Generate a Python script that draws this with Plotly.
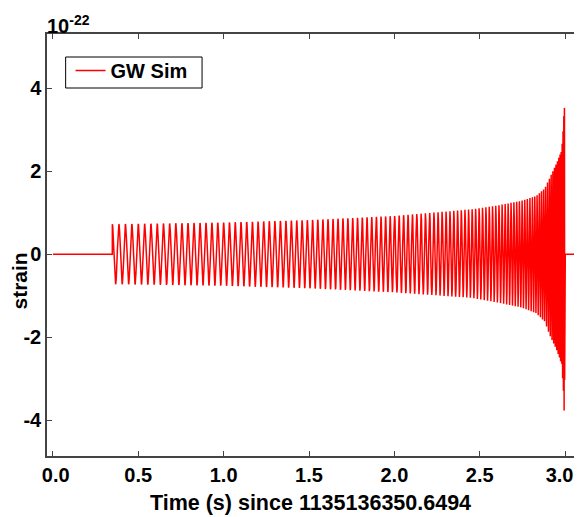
import numpy as np
import plotly.graph_objects as go

# ---- values ----
# instantaneous frequency (Hz) of the chirp at several times (s)
freq_t = [0.348, 1.35, 2.2, 2.6, 2.8, 2.9, 2.95, 2.975, 2.99, 2.9975]
freq_hz = [26, 31, 40, 53, 68, 89, 115, 150, 220, 300]
# upper / lower envelope of the strain (units of 1e-22)
env_t = [0.348, 1.0, 1.5, 2.0, 2.45, 2.6, 2.74, 2.83, 2.88, 2.91, 2.95, 2.98, 2.99, 2.995, 2.9975]
env_up = [0.72, 0.76, 0.82, 0.92, 1.08, 1.17, 1.28, 1.40, 1.58, 1.84, 2.19, 2.5, 3.1, 3.6, 3.6]
env_dn = [0.72, 0.76, 0.82, 0.92, 1.05, 1.16, 1.28, 1.42, 1.62, 1.95, 2.3, 2.65, 3.3, 3.86, 3.86]
t_start, t_end, t_total = 0.348, 2.9975, 3.1
x_ticks = [0.0, 0.5, 1.0, 1.5, 2.0, 2.5, 3.0]
x_labels = ["\u00a00.0", "0.5", "1.0", "1.5", "2.0", "2.5", "3.0\u00a0\u00a0"]
y_ticks = [-4, -2, 0, 2, 4]
scale = 1e-22

fs = 4096
t = np.arange(0, t_total, 1 / fs)
on = (t >= t_start) & (t <= t_end)
f = np.interp(t, freq_t, freq_hz)
phase = 2 * np.pi * np.cumsum(np.where(on, f, 0)) / fs
phase -= phase[on][0]
c = np.cos(phase)
a = np.where(c >= 0, np.interp(t, env_t, env_up), np.interp(t, env_t, env_dn))
h = np.where(on, a * c, 0.0) * scale

FONT = "Liberation Sans"
W, H = 584, 517
L, R, T, B = 47, 0, 34, 61
pw, ph = W - L - R, H - T - B


def px(x):
    return (x - L) / pw


def py(y):
    return 1 - (y - T) / ph


fig = go.Figure()
fig.add_trace(go.Scatter(x=t, y=h, mode="lines", name="GW Sim\u00a0\u00a0\u00a0",
                         line=dict(color="#ff0000", width=1.5)))

axcol = "#444444"
fig.update_layout(
    width=W, height=H,
    margin=dict(l=L, r=R, t=T, b=B),
    paper_bgcolor="white", plot_bgcolor="white",
    font=dict(family=FONT, size=20, color="black", weight="bold"),
    showlegend=True,
    legend=dict(x=px(71), y=py(51), xanchor="left", yanchor="top",
                bgcolor="rgba(0,0,0,0)", borderwidth=0,
                font=dict(size=20, family=FONT, weight="bold"),
                itemwidth=30, tracegroupgap=0),
    xaxis=dict(range=[-0.0345, 3.052], tickvals=x_ticks, ticktext=x_labels,
               ticklabeloverflow="allow",
               ticks="inside", ticklen=5, tickcolor=axcol,
               showline=True, linecolor=axcol, linewidth=1.5, mirror="ticks",
               showgrid=False, zeroline=False,
               title=dict(text="Time (s) since 1135136350.6494",
                          font=dict(size=21.5, family=FONT, weight="bold"), standoff=10)),
    yaxis=dict(range=[-4.858 * scale, 5.30 * scale],
               tickvals=[v * scale for v in y_ticks],
               ticktext=[str(v) for v in y_ticks],
               ticks="inside", ticklen=5, tickcolor=axcol,
               showline=True, linecolor=axcol, linewidth=1.5, mirror=False,
               showgrid=False, zeroline=False),
    shapes=[dict(type="rect", xref="paper", yref="paper",
                 x0=px(66), x1=px(205), y0=py(88), y1=py(57),
                 line=dict(color="black", width=1), fillcolor="rgba(0,0,0,0)")],
    annotations=[
        dict(text="10<sup>-22</sup>", xref="paper", yref="paper",
             x=0, y=1, xanchor="left", yanchor="bottom", showarrow=False,
             xshift=-2, yshift=-5,
             font=dict(size=20, family=FONT, weight="bold")),
        dict(text="strain", xref="paper", yref="paper", textangle=-90,
             x=px(18), y=py(281), xanchor="center", yanchor="middle",
             showarrow=False, font=dict(size=21, family=FONT, weight="bold")),
    ],
)
fig.write_html("out.html")
